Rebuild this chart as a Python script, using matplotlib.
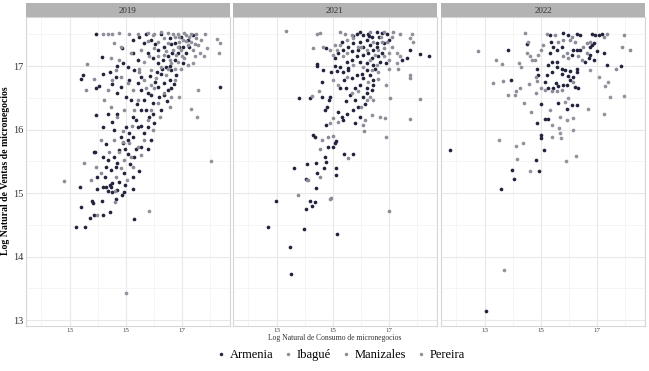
import matplotlib.pyplot as plt
from matplotlib.lines import Line2D

plt.rcParams['font.family'] = ['Liberation Serif', 'DejaVu Serif']

years = ['2019', '2021', '2022']
cities = ['Armenia', 'Ibagué', 'Manizales', 'Pereira']
colores = ['#22243d', '#8f8f9c', '#8b8b99', '#93939f']

# puntos (log consumo, log ventas)
armenia_2019 = [(13.95,17.50),(13.39,16.80),(13.48,16.86),(14.14,17.14),(13.95,16.66),(14.06,16.69),(13.95,16.23),(14.17,16.88),(14.43,16.91),(14.65,16.83),(14.68,17.00),(14.86,17.28),(14.50,16.72),(14.17,16.04),(13.87,15.64),(13.36,15.09),(13.40,14.78),(13.24,14.47),(13.54,14.47),(13.71,14.61),(13.79,14.87),(13.83,14.85),(13.86,14.66),(13.98,15.06),(14.14,14.87),(14.18,14.66),(14.20,15.09),(14.29,15.09),(14.37,15.03),(14.45,15.13),(14.50,15.16),(14.52,15.02),(14.64,14.91),(14.43,14.70),(14.86,14.97),(15.30,14.59),(18.35,16.67),
    (14.30,15.77),(14.76,15.67),(14.96,15.69),(15.06,15.62),(14.89,15.78),(15.30,15.57),(14.58,15.57),(14.35,15.52),(14.64,15.41),(14.94,15.31),(15.26,15.25),(14.26,15.26),(14.46,15.36),(14.58,15.99),(14.82,15.89),(15.06,15.83),(15.24,16.20),(15.42,16.04),(15.65,15.94),(15.89,15.83),(15.54,16.31),(15.83,16.20),(16.01,16.10),(15.65,16.46),(15.95,16.41),(16.19,16.52),(16.25,16.31),(15.77,16.57),(15.54,16.62),
    (16.13,16.67),(16.37,16.73),(16.55,16.78),(16.49,16.62),(16.25,16.88),(16.43,16.99),(16.61,16.94),(16.73,17.09),(16.49,17.15),(16.31,17.09),(16.13,17.04),(16.85,17.20),(17.02,17.30),(16.73,17.36),(16.55,17.44),(16.37,17.30),(16.13,17.25),(15.95,17.12),(15.77,17.20),(15.89,17.41),(15.65,17.36),(15.48,17.46),(15.24,17.41),(15.71,17.50),(16.25,17.51),(16.96,17.46),(17.20,17.41),(17.38,17.49),(17.14,17.20),(17.26,17.30),(17.02,17.04),(16.79,16.86),(16.61,16.65),
    (14.82,16.67),(15.00,16.52),(15.18,16.46),(15.12,16.78),(15.06,16.99),(15.30,16.94),(14.88,17.04),(14.70,16.57),(15.42,16.73),(15.54,16.83),(15.27,17.20),(15.42,17.09),
    (13.90,15.65),(14.17,15.57),(14.30,15.41),(13.99,15.26),(14.70,15.48),(14.76,15.18),(14.96,15.13),(14.46,15.10),(15.24,15.07),
    (14.35,16.25),(14.52,16.12),(14.70,16.25),(15.00,16.04),(15.24,15.89),(15.54,15.73),(15.77,16.04),(15.36,16.15),
    (15.10,15.95),(15.35,15.70),(15.55,16.05),(15.70,16.30),(15.90,16.55),(16.05,16.75),(16.30,16.95),(16.55,17.00),(16.65,17.20),(16.90,17.30),(16.45,16.45),(15.80,15.70),(15.15,15.45),(14.95,15.02),(14.70,15.05),(15.45,15.35),(16.10,16.90),(16.35,16.55),(15.85,16.85),(16.70,16.72),(16.05,17.35),(16.60,17.35),(15.40,16.40),(15.95,16.25)]
ibague_2019 = [(14.17,17.50),(14.35,17.51),(14.52,17.50),(14.76,17.52),(15.12,17.51),(15.42,17.50),(15.77,17.52),(16.01,17.51),(16.25,17.53),(16.49,17.52),(16.67,17.51),(16.85,17.50),(17.08,17.52),(17.32,17.51),(17.50,17.50),(17.80,17.51),
    (14.58,17.36),(14.46,17.12),(14.76,17.09),(14.82,17.30),(15.18,17.20),(15.54,17.25),(15.83,17.15),(16.01,17.28),(16.13,17.38),(16.49,17.36),(16.73,17.46),(16.90,17.38),(17.14,17.49),(17.20,17.33),(17.38,17.25),(17.56,17.33),(17.68,17.41),(17.50,17.44),(16.96,17.25),(16.79,17.17),(17.08,17.12),(17.20,17.02),(16.96,16.96),(16.73,16.78),(16.61,16.52),(12.80,15.19),(13.99,14.66),
    (16.00,16.65),(16.20,16.20),(15.55,15.60),(15.70,16.65),(16.90,17.45),(17.15,17.40)]
manizales_2019 = [(16.55,16.36),(16.37,16.57),(16.13,16.41),(15.89,16.31),(15.77,16.15),(15.95,15.99),(15.65,15.83),(15.42,15.73),(15.18,15.57),(15.24,15.41),(14.94,15.52),(14.82,15.39),(14.64,15.26),(15.12,15.78),(15.30,16.31),(15.42,16.46),(15.24,16.62),(15.06,16.73),(14.82,16.83),(14.64,16.94),(14.52,16.78),(14.35,16.62),(14.23,16.46),(14.46,16.36),(14.70,16.20),(14.94,16.31),(14.88,15.97),(14.58,15.83),(14.40,15.65),(14.11,15.83),(13.93,15.41),(14.11,15.31),(13.75,15.20),(13.51,15.47),(13.63,17.03),(13.88,16.79),(13.58,16.62),(14.60,15.03),(14.60,14.86),
    (17.45,17.35),(16.35,17.18),(15.20,16.05),(14.90,15.80),(15.45,16.90),(15.80,17.40)]
pereira_2019 = [(18.02,15.50),(17.30,16.32),(17.54,16.20),(17.56,16.63),(16.87,16.51),(18.33,17.37),(18.24,17.42),(18.32,17.21),(17.77,17.16),(17.38,17.05),(17.89,17.29),(15.83,14.72),(15.00,13.42),
    (16.43,17.23),(16.55,17.09),(16.67,17.25),(16.85,17.30),(17.02,17.41),(17.26,17.46),(16.37,17.44),(15.95,17.49),(16.13,17.15),(16.25,16.99),(16.43,16.86),(15.89,16.94),(15.65,17.07),(15.48,16.96),(15.65,16.78),(15.89,16.70),(16.07,16.81),(16.49,16.96),(17.44,17.15),(17.62,17.20),(17.32,17.38),(16.85,17.07),
    (16.60,17.05),(17.00,17.15),(16.75,16.95),(15.05,15.20),(14.75,15.65)]

armenia_2021 = [(14.75,17.29),(14.44,17.03),(14.42,17.00),(14.65,16.94),(14.95,16.91),(15.13,16.92),(15.25,16.99),(15.07,17.00),(15.55,16.94),(14.60,16.75),(13.79,16.49),(14.18,16.49),(14.60,16.51),(14.89,16.52),(14.86,16.46),(14.80,16.36),(14.73,16.31),(15.25,16.66),(15.46,16.66),(15.39,16.78),(15.79,16.46),(15.90,16.36),(16.08,16.52),(16.20,16.57),(16.38,16.62),(16.44,16.70),(15.49,16.25),(15.31,16.20),(15.19,16.28),(15.37,16.15),(14.77,16.07),(14.30,15.91),(14.36,15.89),(15.07,15.78),(15.10,15.82),(15.00,15.73),(14.83,15.73),(15.40,15.62),(15.70,15.61),(14.71,15.57),(14.77,15.49),(14.08,15.46),(14.39,15.47),(13.61,15.39),(14.69,15.39),(14.06,15.22),(14.42,15.32),(15.10,15.39),(15.10,15.28),(14.39,15.08),(12.99,14.87),(14.18,14.87),(14.36,14.86),(14.06,14.75),(14.27,14.79),(12.69,14.47),(13.96,14.44),(15.14,14.35),(13.46,14.15),(13.51,13.73),
    (15.85,17.51),(16.08,17.49),(16.26,17.51),(16.56,17.54),(16.74,17.52),(16.92,17.51),(16.65,17.46),(16.38,17.45),(16.20,17.41),(15.96,17.38),(15.73,17.36),(15.55,17.30),(15.37,17.25),(15.67,17.23),(15.90,17.25),(16.08,17.30),(16.32,17.33),(16.56,17.36),(16.80,17.37),(16.98,17.41),(16.44,17.25),(16.26,17.20),(16.08,17.17),(15.85,17.15),(15.67,17.09),(15.49,17.07),(15.96,17.07),(16.20,17.04),(16.38,17.12),(16.62,17.15),(16.68,17.07),(16.44,17.02),(16.20,16.94),(16.02,16.88),(15.85,16.86),(15.67,16.81),(16.08,16.81),(16.32,16.86),(16.44,16.78),(15.96,16.70),(15.79,16.65),(16.20,16.66),(15.31,17.38),(15.19,17.20),(15.07,17.12),(15.96,17.54),(17.75,17.25),(17.63,17.12),(18.08,17.19),(18.40,17.16),(17.45,17.09),(15.55,16.97),(15.37,16.91),
    (16.50,16.95),(16.15,16.40),(15.95,16.20),(15.80,16.10),(15.70,16.30),(16.55,17.30),(16.75,17.20),(16.90,17.05),(15.60,16.55),(15.45,16.45),(16.30,17.48),(15.70,17.48)]
ibague_2021 = [(13.35,17.55),(14.42,17.51),(14.54,17.52),(14.30,17.28),(14.65,17.30),(14.89,17.25),(15.07,17.33),(14.24,16.53),(14.51,16.60),(16.20,16.46),(16.44,16.46),(15.01,16.18),(14.89,16.10),(15.19,16.12),(16.14,16.15),(16.38,16.23),(16.68,16.20),(16.86,16.18),(16.88,15.89),(17.75,16.17),(18.08,16.48),(17.75,16.81),(17.73,16.86),(17.30,16.95),(17.04,16.50),
    (16.60,16.80),(16.90,16.70),(16.00,16.35)]
manizales_2021 = [(14.60,15.83),(14.83,15.89),(15.00,15.90),(16.08,16.07),(16.10,15.98),(15.55,15.55),(14.54,15.69),(14.10,15.20),(14.54,15.26),(13.76,14.97),(14.92,14.92),(14.08,15.20),(14.90,14.90),(17.00,14.71),(15.25,17.54),(15.43,17.51),(15.67,17.49),(16.32,17.54),(16.80,17.54),(17.15,17.54),(17.39,17.51),(17.10,17.46),(16.92,17.38),(16.74,17.38),(16.80,17.28),
    (17.10,17.30),(16.00,17.30)]
pereira_2021 = [(16.62,17.25),(16.50,17.17),(16.44,17.38),(16.20,17.25),(15.90,17.30),(15.73,17.44),(15.49,17.41),(15.25,17.33),(15.13,17.25),(15.01,17.17),(15.37,17.15),(16.32,17.09),(16.56,17.02),(16.80,17.15),(16.98,17.20),(17.39,17.15),(17.73,17.44),(17.85,17.38),(17.81,17.51),(17.27,17.20),(16.08,16.99),(16.38,16.94),(16.62,16.91),(15.73,17.02),(15.49,16.83),(16.26,16.75),(15.67,16.57),(15.90,16.60),(15.19,16.70),(15.01,16.78),(16.32,16.52),(16.98,16.96),(17.27,17.04),
    (15.50,17.20),(16.70,17.45),(17.00,17.10)]

armenia_2022 = [(13.83,17.25),(14.49,17.34),(13.95,16.78),(14.87,16.95),(14.90,16.86),(15.02,16.40),(15.14,16.75),(15.26,16.66),(15.44,16.66),(15.62,16.68),(15.77,16.70),(15.92,16.70),(15.52,16.74),(15.20,16.86),(15.38,16.91),(15.56,16.99),(15.74,16.96),(15.86,16.94),(15.74,16.87),(15.26,17.02),(15.38,17.07),(16.04,16.78),(16.15,16.83),(16.27,16.91),(16.27,16.96),(16.21,16.67),(16.33,16.66),(15.32,17.49),(15.35,17.38),(15.80,17.52),(15.98,17.49),(16.27,17.51),(16.39,17.49),(15.74,17.30),(15.56,17.25),(15.44,17.30),(15.32,17.20),(16.15,17.25),(16.27,17.26),(16.39,17.25),(16.10,17.17),(15.56,17.07),(16.80,17.33),(16.87,17.36),(16.75,17.30),(16.93,17.49),(17.17,17.51),(16.80,17.51),(17.05,17.49),(16.99,17.23),(17.23,17.20),(16.75,17.17),(16.87,17.09),(16.70,17.12),(16.57,17.07),(17.35,17.02),(17.85,17.00),(16.27,16.39),(16.10,16.39),(15.92,16.33),(15.62,16.41),(15.14,16.17),(15.26,16.17),(14.87,16.10),(14.99,15.92),(15.00,15.86),(15.12,15.67),(14.82,15.52),(13.96,15.36),(14.04,15.22),(14.92,15.34),(13.60,15.06),(11.77,15.68),(13.05,13.15),(15.95,16.85),(16.05,16.92)]
ibague_2022 = [(14.43,17.52),(12.77,17.24),(13.42,17.09),(13.63,17.03),(14.55,17.38),(14.49,17.21),(14.61,17.15),(14.67,17.09),(14.79,17.10),(14.90,17.17),(15.02,17.25),(15.08,17.33),(14.23,17.04),(14.31,16.99),(13.30,16.73),(13.65,16.76),(13.83,16.54),(14.07,16.55),(14.13,16.60),(14.25,16.65),(14.58,16.71),(14.40,16.42),(14.82,16.82),(14.87,16.76),(14.82,16.57),(14.65,16.27),(15.02,16.65),(15.14,16.62)]
manizales_2022 = [(15.38,16.60),(15.56,16.60),(15.74,16.62),(16.15,16.75),(15.20,17.51),(15.50,17.49),(15.62,17.38),(15.80,17.41),(16.04,17.41),(16.21,17.38),(16.10,17.46),(15.80,17.15),(15.98,17.12),(15.92,17.20),(16.51,17.30),(16.63,17.36),(16.75,17.38),(17.35,17.51),(17.94,17.49),(17.23,17.46),(16.45,17.09),(16.63,17.20),(16.33,17.15),(17.67,16.96),(17.88,17.30),(18.18,17.25)]
pereira_2022 = [(16.75,16.94),(17.05,16.83),(17.29,16.68),(17.40,16.75),(17.44,16.51),(17.96,16.53),(17.23,16.25),(16.69,16.33),(15.86,16.44),(15.98,16.49),(15.32,16.30),(15.68,16.19),(15.92,16.15),(16.15,16.18),(15.38,16.07),(15.65,16.02),(15.68,15.95),(15.70,15.86),(15.38,15.89),(16.15,15.99),(13.51,15.83),(14.11,15.74),(14.37,15.78),(16.25,15.59),(14.15,15.54),(15.89,15.51),(14.61,15.35),(13.68,13.78)]

paneles = {
    '2019': [armenia_2019, ibague_2019, manizales_2019, pereira_2019],
    '2021': [armenia_2021, ibague_2021, manizales_2021, pereira_2021],
    '2022': [armenia_2022, ibague_2022, manizales_2022, pereira_2022],
}

W, H = 649, 371
fig = plt.figure(figsize=(W/100, H/100), dpi=100)
lefts = [26, 233, 441]
pw = 204
top, bottom = 17, 326

for i, year in enumerate(years):
    ax = fig.add_axes([lefts[i]/W, 1-bottom/H, pw/W, (bottom-top)/H])
    for grupo, col in zip(paneles[year], colores):
        xs = [p[0] for p in grupo]
        ys = [p[1] for p in grupo]
        ax.scatter(xs, ys, s=7, color=col, linewidths=0, zorder=3)
    ax.set_xlim(11.45, 18.7)
    ax.set_ylim(12.906, 17.772)
    ax.set_xticks([13, 15, 17])
    ax.set_xticks([12, 14, 16, 18], minor=True)
    ax.set_yticks([13, 14, 15, 16, 17])
    ax.set_yticks([13.5, 14.5, 15.5, 16.5, 17.5], minor=True)
    ax.grid(which='major', color='#e8e8e8', lw=0.8)
    ax.grid(which='minor', color='#f1f1f1', lw=0.5)
    ax.set_axisbelow(True)
    ax.tick_params(which='both', length=0)
    ax.tick_params(axis='x', labelsize=5, pad=1.5, labelcolor='#444444')
    ax.tick_params(axis='y', labelsize=7.5, pad=2, labelcolor='#333333')
    if i > 0:
        ax.set_yticklabels([])
    for s in ax.spines.values():
        s.set_color('#d6d6d6')
        s.set_linewidth(0.8)

    # franja con el anio
    st = fig.add_axes([lefts[i]/W, 1-top/H, pw/W, 14/H])
    st.set_facecolor('#b3b3b3')
    st.set_xticks([])
    st.set_yticks([])
    for s in st.spines.values():
        s.set_visible(False)
    st.text(0.5, 0.45, year, ha='center', va='center', fontsize=6.5, color='#333333')

fig.text(6/W, 1-171/H, 'Log Natural de Ventas de micronegocios', rotation=90,
         ha='center', va='center', fontsize=7, fontweight='bold')
fig.text(335/W, 1-338/H, 'Log Natural de Consumo de micronegocios',
         ha='center', va='center', fontsize=5.5, color='#333333')

handles = [Line2D([], [], ls='', marker='o', markersize=2.5, color=c, markeredgewidth=0)
           for c in colores]
fig.legend(handles, cities, ncol=4, loc='center', bbox_to_anchor=(340/W, 1-355/H),
           frameon=False, fontsize=9, handletextpad=0.2, columnspacing=0.7,
           handlelength=1.0)

fig.savefig('out.png', dpi=100)
